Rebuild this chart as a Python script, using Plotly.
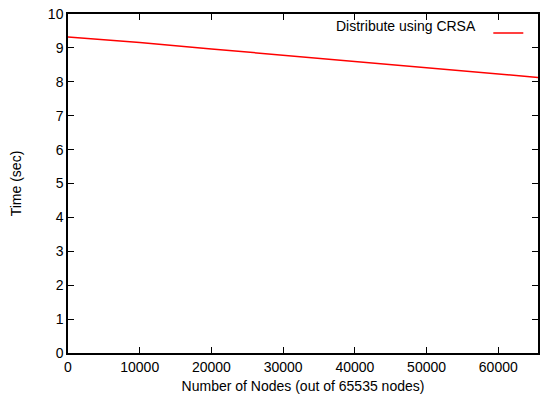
import plotly.graph_objects as go

nodes = [0, 5000, 10000, 20000, 30000, 40000, 50000, 60000, 65535]
time_sec = [9.32, 9.25, 9.16, 8.97, 8.79, 8.60, 8.42, 8.23, 8.13]
x_ticks = [0, 10000, 20000, 30000, 40000, 50000, 60000]
x_tick_labels = ["0", "10000", "20000", "30000", "40000", "50000", "60000"]
y_ticks = [0, 1, 2, 3, 4, 5, 6, 7, 8, 9, 10]
series_name = "Distribute using CRSA"

FONT = "Liberation Sans, Arial, Helvetica, sans-serif"
FS = 14

fig = go.Figure()
fig.add_trace(go.Scatter(x=nodes, y=time_sec, mode="lines", name="",
                         line=dict(color="#ff0000", width=1.5), showlegend=True))

fig.add_annotation(text=series_name, xref="paper", yref="paper",
                   x=0.872, y=0.965, xanchor="right", yanchor="middle",
                   showarrow=False, font=dict(family=FONT, size=FS, color="black"))

axis_common = dict(showline=True, linecolor="black", linewidth=1.5, mirror="allticks",
                   ticks="inside", ticklen=6, tickcolor="black", tickwidth=1,
                   showgrid=False, zeroline=False,
                   tickfont=dict(family=FONT, size=FS, color="black"))

fig.update_layout(
    width=542, height=400,
    margin=dict(l=68, r=2, t=14, b=47),
    paper_bgcolor="white", plot_bgcolor="white",
    xaxis=dict(range=[0, 65535], tickvals=x_ticks, ticktext=x_tick_labels,
               title=dict(text="Number of Nodes (out of 65535 nodes)",
                          font=dict(family=FONT, size=FS, color="black"), standoff=8),
               **axis_common),
    yaxis=dict(range=[0, 10], tickvals=y_ticks,
               title=dict(text="Time (sec)",
                          font=dict(family=FONT, size=FS, color="black"), standoff=23),
               **axis_common),
    legend=dict(x=0.99, y=0.99, xanchor="right", yanchor="top",
                bgcolor="rgba(0,0,0,0)", borderwidth=0,
                font=dict(family=FONT, size=FS), itemwidth=30),
)

fig.write_html("out.html")
